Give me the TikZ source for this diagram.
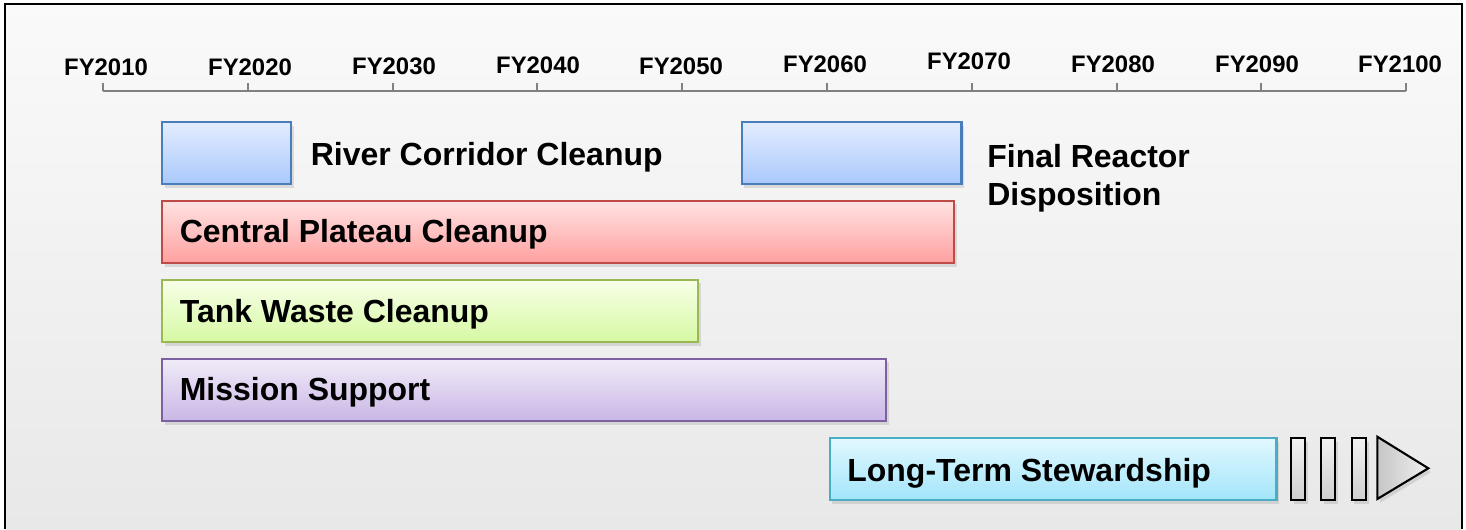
\documentclass[tikz,border=0pt]{standalone}
\usepackage{fontspec}
\setmainfont{Liberation Sans}
\usepackage{xcolor}
\usepackage{tikz}
\usetikzlibrary{shadows, positioning}

\definecolor{blueTop}{HTML}{E3EDFF}
\definecolor{blueBot}{HTML}{A9C8FB}
\definecolor{blueLine}{HTML}{4A7EBB}
\definecolor{redTop}{HTML}{FFE3E3}
\definecolor{redBot}{HTML}{FF9F9F}
\definecolor{redLine}{HTML}{BE4B48}
\definecolor{greenTop}{HTML}{F8FFE8}
\definecolor{greenBot}{HTML}{D6F9A3}
\definecolor{greenLine}{HTML}{98B954}
\definecolor{purpleTop}{HTML}{F1ECF8}
\definecolor{purpleBot}{HTML}{C9B6E6}
\definecolor{purpleLine}{HTML}{7D60A0}
\definecolor{cyanTop}{HTML}{E2F8FF}
\definecolor{cyanBot}{HTML}{A2E5FA}
\definecolor{cyanLine}{HTML}{4BACC6}
\definecolor{axisGrey}{HTML}{808080}

\begin{document}
\begin{tikzpicture}[
        x=0.02cm, y=-0.02cm,
        bar/.style={rectangle, draw, line width=1.2pt, inner sep=0pt, anchor=north west,
            drop shadow={opacity=0.22, shadow xshift=1.5pt, shadow yshift=-2.2pt}},
        bluebar/.style={bar, draw=blueLine, top color=blueTop, bottom color=blueBot},
        redbar/.style={bar, draw=redLine, top color=redTop, bottom color=redBot},
        greenbar/.style={bar, draw=greenLine, top color=greenTop, bottom color=greenBot},
        purplebar/.style={bar, draw=purpleLine, top color=purpleTop, bottom color=purpleBot},
        cyanbar/.style={bar, draw=cyanLine, top color=cyanTop, bottom color=cyanBot},
        morebar/.style={bar, draw=black, top color=gray!10, bottom color=gray!38,
            minimum width=0.286cm, minimum height=1.25cm},
        label/.style={anchor=base west, inner sep=0pt, font=\fontsize{18.2}{21.8}\selectfont\bfseries},
        year/.style={anchor=base, inner sep=0pt, font=\fontsize{13.6}{16}\selectfont\bfseries},
        axis/.style={draw=axisGrey, line width=1.1pt}
    ]
        \useasboundingbox (0,0) rectangle (1466,529);
        % background and frame
        \shade[top color=white!98!black, bottom color=white!91!black] (5,4) rectangle (1462,529);
        \draw[line width=1.2pt] (5,529) -- (5,4) -- (1462,4) -- (1462,529);

        % time axis
        \draw[axis] (103,91) -- (1406,91);
        \foreach \i in {0,...,9}
            \draw[axis] (103+144.8*\i,91) -- ++(0,-8);
        \foreach \yr/\xx/\yy in {2010/106/75, 2020/250/75, 2030/394/74, 2040/538/73.5,
                2050/681/74, 2060/825/72, 2070/969/69.5, 2080/1113/72, 2090/1257/72, 2100/1400/72}
            \node[year] (fy\yr) at (\xx,\yy) {FY\yr};

        % activities
        \node[bluebar, minimum width=2.58cm, minimum height=1.24cm] (river) at (161,121) {};
        \node[label] (riverlbl) at (310.5,165) {River Corridor Cleanup};
        \node[bluebar, minimum width=4.4cm, minimum height=1.24cm] (reactor) at (740.5,121) {};
        \node[label, anchor=north west, align=left] (reactorlbl) at (987,143.5) {Final Reactor\\Disposition};

        \node[redbar, minimum width=15.84cm, minimum height=1.25cm] (plateau) at (161,199.5) {};
        \node[label] (plateaulbl) at (179.5,242) {Central Plateau Cleanup};

        \node[greenbar, minimum width=10.72cm, minimum height=1.25cm] (tank) at (161,278.5) {};
        \node[label] (tanklbl) at (179.5,322) {Tank Waste Cleanup};

        \node[purplebar, minimum width=14.48cm, minimum height=1.25cm] (mission) at (161,357.5) {};
        \node[label] (missionlbl) at (179.5,400.5) {Mission Support};

        \node[cyanbar, minimum width=8.94cm, minimum height=1.25cm] (steward) at (828.5,436.7) {};
        \node[label] (stewardlbl) at (847,481) {Long-Term Stewardship};

        % continuation marks
        \node[morebar] (more1) at (1290,436.7) {};
        \node[morebar] (more2) at (1320,436.7) {};
        \node[morebar] (more3) at (1350.7,436.7) {};
        \draw[line width=1.2pt, left color=gray!45, right color=gray!12,
            drop shadow={opacity=0.22, shadow xshift=1.5pt, shadow yshift=-2.2pt}]
            (1377.3,436.7) -- (1428.3,468.3) -- (1377.3,499) -- cycle;
    \end{tikzpicture}
\end{document}
